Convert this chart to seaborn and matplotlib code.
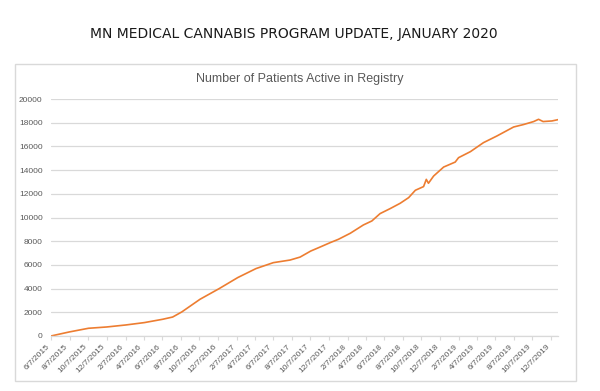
import pandas as pd
import matplotlib.pyplot as plt
import seaborn as sns
from matplotlib.patches import Rectangle

# values
dates = [
    "2015-06-07", "2015-08-06", "2015-10-08", "2015-12-07", "2016-02-08",
    "2016-04-09", "2016-06-08", "2016-07-11", "2016-08-10", "2016-10-09",
    "2016-12-11", "2017-02-10", "2017-04-11", "2017-06-07", "2017-08-01",
    "2017-09-03", "2017-10-08", "2017-11-08", "2017-12-11", "2018-01-07",
    "2018-02-15", "2018-03-30", "2018-04-27", "2018-05-24", "2018-06-26",
    "2018-07-29", "2018-08-26", "2018-09-17", "2018-10-14", "2018-10-23",
    "2018-10-30", "2018-11-16", "2018-12-19", "2019-01-26", "2019-02-06",
    "2019-03-17", "2019-04-29", "2019-06-12", "2019-08-06", "2019-09-08",
    "2019-10-11", "2019-10-27", "2019-11-11", "2019-12-10", "2020-01-01",
]
patients = [
    0, 340, 650, 760, 930,
    1130, 1410, 1600, 2030, 3100,
    4000, 4930, 5690, 6190, 6410,
    6660, 7170, 7510, 7880, 8160,
    8670, 9370, 9710, 10330, 10750,
    11200, 11680, 12300, 12610, 13220,
    12890, 13500, 14260, 14680, 15050,
    15560, 16320, 16880, 17640, 17850,
    18100, 18290, 18100, 18150, 18270,
]
tick_labels = [
    "6/7/2015", "8/7/2015", "10/7/2015", "12/7/2015", "2/7/2016", "4/7/2016",
    "6/7/2016", "8/7/2016", "10/7/2016", "12/7/2016", "2/7/2017", "4/7/2017",
    "6/7/2017", "8/7/2017", "10/7/2017", "12/7/2017", "2/7/2018", "4/7/2018",
    "6/7/2018", "8/7/2018", "10/7/2018", "12/7/2018", "2/7/2019", "4/7/2019",
    "6/7/2019", "8/7/2019", "10/7/2019", "12/7/2019",
]
y_ticks = [0, 2000, 4000, 6000, 8000, 10000, 12000, 14000, 16000, 18000, 20000]

sns.set_theme(style="white")
plt.rcParams['font.family'] = ['Liberation Sans', 'DejaVu Sans']

df = pd.DataFrame({"date": pd.to_datetime(dates), "patients": patients})
tick_dates = pd.to_datetime(tick_labels, format="%m/%d/%Y")

fig = plt.figure(figsize=(6, 3.91), dpi=100)

# chart frame like the Excel chart area (outline only, behind the axes)
fig.patches.append(Rectangle((0.025, 0.0256), 0.935, 0.811, transform=fig.transFigure,
                             facecolor="none", edgecolor="#d9d9d9", linewidth=1, zorder=-1))

fig.text(0.49, 0.913, "MN MEDICAL CANNABIS PROGRAM UPDATE, JANUARY 2020",
         ha="center", va="center", fontsize=10, color="#1a1a1a", family=["DejaVu Sans"])
fig.text(0.4995, 0.797, "Number of Patients Active in Registry",
         ha="center", va="center", fontsize=9, color="#595959")

ax = fig.add_axes([0.085, 0.1407, 0.845, 0.606])
ax.set_facecolor("none")
sns.lineplot(data=df, x="date", y="patients", color="#ED7D31", linewidth=1.2, ax=ax)

ax.set_ylim(0, 20000)
ax.set_xlim(pd.Timestamp("2015-06-07"), pd.Timestamp("2019-12-30"))
ax.set_yticks(y_ticks)
ax.set_yticklabels([str(v) for v in y_ticks])
ax.set_xticks(tick_dates)
ax.set_xticklabels(tick_labels, rotation=45, ha="right")
ax.set_xlabel("")
ax.set_ylabel("")

ax.grid(axis="y", color="#d9d9d9", linewidth=0.9)
ax.grid(axis="x", visible=False)
for side in ["left", "top", "right"]:
    ax.spines[side].set_visible(False)
ax.spines["bottom"].set_color("#d9d9d9")
ax.spines["bottom"].set_linewidth(0.9)

ax.tick_params(axis="y", length=0, pad=6, labelsize=6, labelcolor="#595959")
ax.tick_params(axis="x", bottom=True, length=3, width=0.8, color="#d9d9d9",
               pad=2, labelsize=6, labelcolor="#595959")

fig.savefig("out.png", dpi=100)
